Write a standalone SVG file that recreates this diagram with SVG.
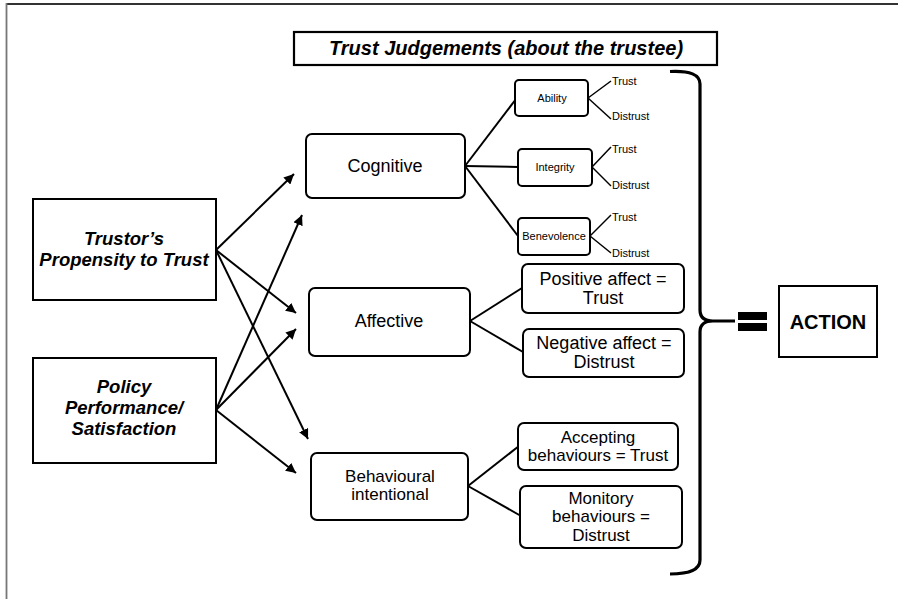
<svg xmlns="http://www.w3.org/2000/svg" width="898" height="599" viewBox="0 0 898 599">
<defs>
<marker id="arr" viewBox="0 0 10 10" refX="10" refY="5" markerWidth="5" markerHeight="5" orient="auto" markerUnits="strokeWidth">
<path d="M0,0 L10,5 L0,10 z" fill="#000"/>
</marker>
<style>
text{font-family:"Liberation Sans",Arial,sans-serif;fill:#000;text-anchor:middle}
.bi{font-weight:bold;font-style:italic}
.t18{font-size:18px}
.t17{font-size:17px}
.t11{font-size:11px}
.box{fill:#fff;stroke:#000;stroke-width:2}
.rbox{fill:#fff;stroke:#000;stroke-width:2}
.ln{stroke:#000;stroke-width:2;fill:none}
.br{stroke:#000;stroke-width:1.5;fill:none}
.arrow{stroke:#000;stroke-width:2;fill:none;marker-end:url(#arr)}
.lab{text-anchor:start;font-size:11px}
</style>
</defs>
<rect width="898" height="599" fill="#fff"/>
<g id="frame">
<line x1="6.5" y1="4" x2="898" y2="4" stroke="#333" stroke-width="1.8"/>
<line x1="6.5" y1="3" x2="6.5" y2="599" stroke="#777" stroke-width="1.8"/>
</g>

<g id="connectors">
<line class="arrow" x1="216" y1="250" x2="294" y2="174"/>
<line class="arrow" x1="216" y1="250" x2="296" y2="313"/>
<line class="arrow" x1="216" y1="250" x2="308" y2="439"/>
<line class="arrow" x1="216" y1="410" x2="302" y2="215"/>
<line class="arrow" x1="216" y1="410" x2="296" y2="329"/>
<line class="arrow" x1="216" y1="410" x2="296" y2="473"/>
<line class="ln" x1="465" y1="166" x2="516" y2="99"/>
<line class="ln" x1="465" y1="166" x2="518" y2="167"/>
<line class="ln" x1="465" y1="166" x2="518" y2="236"/>
<line class="br" x1="588" y1="98" x2="611" y2="81"/>
<line class="br" x1="588" y1="98" x2="611" y2="119"/>
<line class="br" x1="592" y1="167" x2="611" y2="147"/>
<line class="br" x1="592" y1="167" x2="611" y2="186"/>
<line class="br" x1="590" y1="236" x2="611" y2="215"/>
<line class="br" x1="590" y1="236" x2="611" y2="253"/>
<line class="ln" x1="470" y1="321" x2="522" y2="288"/>
<line class="ln" x1="470" y1="321" x2="523" y2="352"/>
<line class="ln" x1="468" y1="486" x2="519" y2="446"/>
<line class="ln" x1="468" y1="486" x2="521" y2="516"/>
</g>

<g id="title">
<rect x="294" y="32" width="423" height="33" fill="#fff" stroke="#000" stroke-width="2.2"/>
<text x="506" y="55" class="bi" font-size="20">Trust Judgements (about the trustee)</text>
</g>

<g id="trustor">
<rect class="box" x="33" y="199" width="183" height="101"/>
<text x="124" y="245" class="bi" font-size="18.5">Trustor’s</text>
<text x="124" y="266" class="bi" font-size="18.5">Propensity to Trust</text>
</g>

<g id="policy">
<rect class="box" x="33" y="358" width="183" height="105"/>
<text x="124" y="393" class="bi" font-size="18.5">Policy</text>
<text x="124" y="414" class="bi" font-size="18.5">Performance/</text>
<text x="124" y="435" class="bi" font-size="18.5">Satisfaction</text>
</g>

<g id="cognitive">
<rect class="rbox" x="306" y="134" width="159" height="64" rx="6"/>
<text x="385" y="172" class="t18">Cognitive</text>
</g>

<g id="affective">
<rect class="rbox" x="309" y="288" width="161" height="68" rx="6"/>
<text x="389" y="327" class="t18">Affective</text>
</g>

<g id="behavioural">
<rect class="rbox" x="311" y="453" width="157" height="67" rx="6"/>
<text x="390" y="482" class="t17">Behavioural</text>
<text x="390" y="500" class="t17">intentional</text>
</g>

<g id="ability">
<rect class="rbox" x="515" y="80" width="73" height="36" rx="4"/>
<text x="552" y="102" class="t11">Ability</text>
<text x="612" y="85" class="lab">Trust</text>
<text x="612" y="120" class="lab">Distrust</text>
</g>

<g id="integrity">
<rect class="rbox" x="518" y="149" width="74" height="37" rx="4"/>
<text x="555" y="171" class="t11">Integrity</text>
<text x="612" y="153" class="lab">Trust</text>
<text x="612" y="189" class="lab">Distrust</text>
</g>

<g id="benevolence">
<rect class="rbox" x="518" y="218" width="72" height="37" rx="4"/>
<text x="554" y="240" class="t11">Benevolence</text>
<text x="612" y="221" class="lab">Trust</text>
<text x="612" y="257" class="lab">Distrust</text>
</g>

<g id="positive">
<rect class="rbox" x="522" y="264" width="162" height="49" rx="6"/>
<text x="603" y="285" class="t18">Positive affect =</text>
<text x="603" y="304" class="t18">Trust</text>
</g>

<g id="negative">
<rect class="rbox" x="523" y="329" width="161" height="48" rx="6"/>
<text x="604" y="349" class="t18">Negative affect =</text>
<text x="604" y="368" class="t18">Distrust</text>
</g>

<g id="accepting">
<rect class="rbox" x="518" y="423" width="160" height="47" rx="6"/>
<text x="598" y="443" class="t17">Accepting</text>
<text x="598" y="461" class="t17">behaviours = Trust</text>
</g>

<g id="monitory">
<rect class="rbox" x="520" y="486" width="162" height="62" rx="6"/>
<text x="601" y="504" class="t17">Monitory</text>
<text x="601" y="522" class="t17">behaviours =</text>
<text x="601" y="541" class="t17">Distrust</text>
</g>

<g id="brace">
<path d="M670 71.5 Q700 70 700 84 L700 310 Q700 321 713 321 L735 321 M713 321 Q700 321 700 332 L700 560 Q700 574 670 574" fill="none" stroke="#000" stroke-width="3.2"/>
</g>

<g id="equals">
<rect x="738" y="312" width="29" height="8" fill="#000"/>
<rect x="738" y="323" width="29" height="8" fill="#000"/>
</g>

<g id="action">
<rect x="779" y="286" width="98" height="71" fill="#fff" stroke="#000" stroke-width="2"/>
<text x="828" y="329" font-size="20" font-weight="bold">ACTION</text>
</g>
</svg>
